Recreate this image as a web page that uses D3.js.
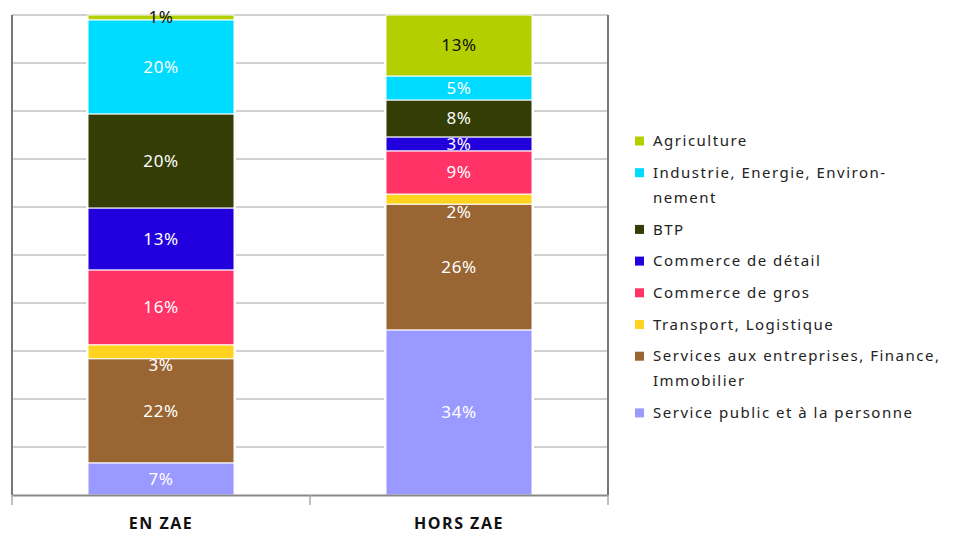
<!DOCTYPE html>
<html>
<head>
<meta charset="utf-8">
<script src="https://cdn.jsdelivr.net/npm/d3@7"></script>
<style>
  body { margin: 0; background: #fff; }
  svg { display: block; font-family: "Noto Sans", sans-serif; }
</style>
</head>
<body>
<div id="chart"></div>
<script>
// Données (parts en %)
const categories = ['EN ZAE', 'HORS ZAE'];
const series = [
  'Service public et à la personne',
  'Services aux entreprises, Finance, Immobilier',
  'Transport, Logistique',
  'Commerce de gros',
  'Commerce de détail',
  'BTP',
  'Industrie, Energie, Environnement',
  'Agriculture'
];
const enZae   = [6.7, 21.7, 2.9, 15.6, 12.9, 19.6, 19.6, 1.0];
const horsZae = [34.4, 26.2, 2.1, 9.0, 2.9, 7.7, 5.0, 12.7];
const yTicks = [0, 10, 20, 30, 40, 50, 60, 70, 80, 90, 100];

// Libellés de légende (avec coupures comme dans l'original)
const legendLabels = [
  ['Agriculture'],
  ['Industrie, Energie, Environ-', 'nement'],
  ['BTP'],
  ['Commerce de détail'],
  ['Commerce de gros'],
  ['Transport, Logistique'],
  ['Services aux entreprises, Finance,', 'Immobilier'],
  ['Service public et à la personne']
];
const legendOrder = [7, 6, 5, 4, 3, 2, 1, 0];

const colors = ['#9999ff', '#996633', '#ffd320', '#ff3366', '#2200dd', '#333d05', '#00dcff', '#b3cf00'];
const labelColors = ['#fff', '#fff', '#fff', '#fff', '#fff', '#fff', '#fff', '#111'];

const width = 955, height = 536;
const plot = { left: 12, right: 608, top: 15, bottom: 495 };

const svg = d3.select('#chart').append('svg')
  .attr('width', width)
  .attr('height', height);

const x = d3.scaleBand()
  .domain(categories)
  .range([plot.left, plot.right]);

const y = d3.scaleLinear()
  .domain([0, 100])
  .range([plot.bottom, plot.top]);

// Grille horizontale
svg.append('g')
  .selectAll('line')
  .data(yTicks.slice(1))
  .enter()
  .append('line')
  .attr('x1', plot.left)
  .attr('x2', plot.right)
  .attr('y1', d => y(d))
  .attr('y2', d => y(d))
  .attr('stroke', '#c0c0c0')
  .attr('stroke-width', 1.5);

// Empilement
const rows = categories.map((c, i) => {
  const vals = i === 0 ? enZae : horsZae;
  const row = { cat: c };
  series.forEach((s, j) => { row[s] = vals[j]; });
  return row;
});
const stacked = d3.stack().keys(series)(rows);

const barW = x.bandwidth() * 0.49;
const barX = c => x(c) + (x.bandwidth() - barW) / 2;

// Fond blanc derrière les barres (coupe la grille)
svg.append('g')
  .selectAll('rect')
  .data(categories)
  .enter()
  .append('rect')
  .attr('x', d => barX(d) - 2)
  .attr('width', barW + 4)
  .attr('y', y(100) + 1)
  .attr('height', y(0) - y(100) - 1)
  .attr('fill', '#fff');

const layers = svg.append('g')
  .selectAll('g')
  .data(stacked)
  .enter()
  .append('g')
  .attr('fill', (d, i) => colors[i]);

layers.selectAll('rect')
  .data(d => d)
  .enter()
  .append('rect')
  .attr('x', d => barX(d.data.cat))
  .attr('width', barW)
  .attr('y', d => y(d[1]))
  .attr('height', d => y(d[0]) - y(d[1]))
  .attr('stroke', '#fff')
  .attr('stroke-width', 1);

// Étiquettes de valeurs
const labelShift = { 'Transport, Logistique': 13 };
layers.each(function(layer, i) {
  d3.select(this).selectAll('text')
    .data(layer)
    .enter()
    .append('text')
    .attr('x', d => barX(d.data.cat) + barW / 2)
    .attr('y', d => (y(d[0]) + y(d[1])) / 2 + (labelShift[layer.key] || 0))
    .attr('dy', '0.35em')
    .attr('text-anchor', 'middle')
    .attr('fill', labelColors[i])
    .style('font-size', '17px')
    .style('letter-spacing', '0.6px')
    .text(d => Math.round(d[1] - d[0]) + '%');
});

// Axes
svg.append('line')
  .attr('x1', plot.left).attr('x2', plot.left)
  .attr('y1', plot.top).attr('y2', plot.bottom)
  .attr('stroke', '#777').attr('stroke-width', 2);
svg.append('line')
  .attr('x1', plot.right).attr('x2', plot.right)
  .attr('y1', plot.top).attr('y2', plot.bottom)
  .attr('stroke', '#777').attr('stroke-width', 2);

const xAxis = svg.append('g')
  .attr('transform', `translate(0,${plot.bottom})`)
  .call(d3.axisBottom(x).tickSize(0).tickPadding(23));
xAxis.select('.domain').attr('stroke', '#888').attr('stroke-width', 2);
xAxis.selectAll('text')
  .style('font-size', '16px')
  .style('font-weight', 'bold')
  .style('letter-spacing', '1.5px')
  .style('font-family', '"Open Sans", sans-serif')
  .attr('fill', '#111');

// Graduations entre catégories
const tickXs = [plot.left].concat(categories.map(c => x(c) + x.bandwidth()));
svg.append('g')
  .selectAll('line')
  .data(tickXs)
  .enter()
  .append('line')
  .attr('x1', d => d).attr('x2', d => d)
  .attr('y1', plot.bottom).attr('y2', plot.bottom + 10)
  .attr('stroke', '#aaa').attr('stroke-width', 1.5);

// Légende
const legend = svg.append('g').attr('transform', 'translate(635,141)');
let ly = 0;
legendOrder.forEach(idx => {
  const g = legend.append('g').attr('transform', `translate(0,${ly})`);
  g.append('rect')
    .attr('x', 0).attr('y', -4.5)
    .attr('width', 9).attr('height', 9)
    .attr('fill', colors[idx]);
  legendLabels[7 - idx].forEach((line, k) => {
    g.append('text')
      .attr('x', 18)
      .attr('y', k * 25)
      .attr('dy', '0.35em')
      .attr('fill', '#222')
      .style('font-size', '15px')
      .style('letter-spacing', '1.5px')
      .text(line);
  });
  ly += 31.7 + (legendLabels[7 - idx].length - 1) * 25;
});
</script>
</body>
</html>
